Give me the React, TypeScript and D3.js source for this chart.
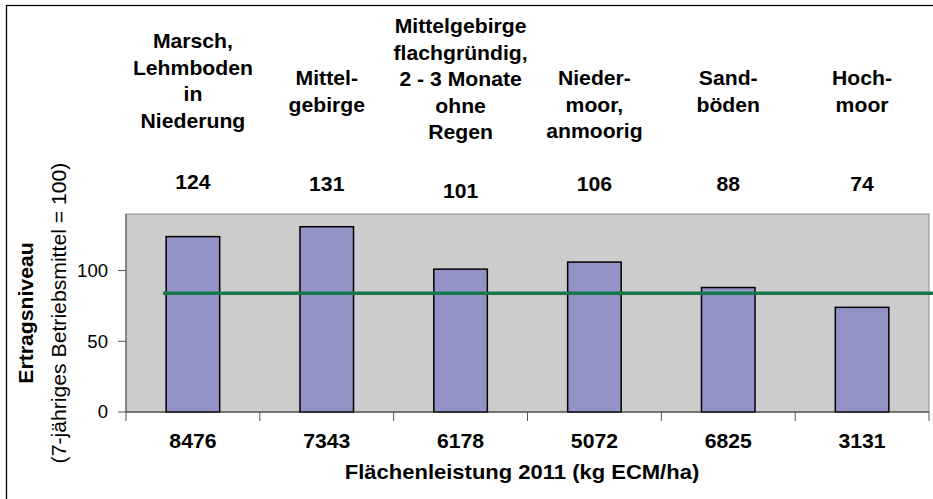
import React from "react";
import * as d3 from "d3";

// ---- data ----
const categoryLines: string[][] = [
  ["Marsch,", "Lehmboden", "in", "Niederung"],
  ["Mittel-", "gebirge"],
  ["Mittelgebirge", "flachgründig,", "2 - 3 Monate", "ohne", "Regen"],
  ["Nieder-", "moor,", "anmoorig"],
  ["Sand-", "böden"],
  ["Hoch-", "moor"],
];
const values: number[] = [124, 131, 101, 106, 88, 74];
const areaYield: string[] = ["8476", "7343", "6178", "5072", "6825", "3131"];
const referenceLevel = 84;
const yTicks: number[] = [0, 50, 100];
const yMax = 140;
const xTitle = "Flächenleistung 2011 (kg ECM/ha)";
const yTitle1 = "Ertragsniveau";
const yTitle2 = "(7-jähriges Betriebsmittel = 100)";

// ---- layout ----
const W = 933;
const H = 499;
const plot = { left: 126, right: 929, top: 214, bottom: 412 };
const firstBaseline = [48, 85, 33, 85, 85, 85];
const lineGap = 26.5;
const valueBaseline = [189, 191, 198, 191, 191, 191];
const FONT = "'Liberation Sans', Arial, Helvetica, sans-serif";
const SX = 1.06;

function T(props: {
  x: number; y: number; children: React.ReactNode; size?: number; bold?: boolean;
  anchor?: "start" | "middle" | "end"; rotate?: number; sx?: number; baseline?: string;
}) {
  const { x, y, children, size = 20, bold = true, anchor = "middle", rotate = 0, sx = SX, baseline } = props;
  return (
    <text
      transform={`translate(${x},${y}) rotate(${rotate}) scale(${sx},1)`}
      fontFamily={FONT}
      fontSize={size}
      fontWeight={bold ? "bold" : "normal"}
      textAnchor={anchor}
      dominantBaseline={baseline as any}
      fill="#000"
    >
      {children}
    </text>
  );
}

export default function App() {
  const idx = values.map((_, i) => String(i));
  const x = d3.scaleBand<string>().domain(idx).range([plot.left, plot.right]).paddingInner(0).paddingOuter(0);
  const y = d3.scaleLinear().domain([0, yMax]).range([plot.bottom, plot.top]);
  const bw = x.bandwidth();
  const barW = bw * 0.4;
  const lineX0 = (x("0") as number) + bw * 0.277;
  const bandEdges = d3.range(values.length + 1).map((i) => plot.left + i * bw);
  const cx = (i: number) => (x(String(i)) as number) + bw / 2;
  const plotMid = (plot.top + plot.bottom) / 2;

  return (
    <svg
      width={W}
      height={H}
      style={{ position: "absolute", left: 0, top: 0, background: "#fff" }}
    >
      <rect x={0} y={0} width={W} height={H} fill="#fff" />
      {/* outer frame */}
      <rect x={6.5} y={5.5} width={W + 20} height={H + 20} fill="none" stroke="#000" strokeWidth={1.3} />

      {/* plot area */}
      <rect
        x={plot.left}
        y={plot.top}
        width={plot.right - plot.left}
        height={plot.bottom - plot.top}
        fill="#cccccc"
        stroke="#8c8c8c"
        strokeWidth={1}
      />

      {/* bars */}
      {values.map((v, i) => (
        <rect
          key={i}
          x={cx(i) - barW / 2}
          y={y(v)}
          width={barW}
          height={y(0) - y(v)}
          fill="#9393c8"
          stroke="#000"
          strokeWidth={1.5}
        />
      ))}

      {/* reference line */}
      <line
        x1={lineX0}
        x2={W}
        y1={y(referenceLevel)}
        y2={y(referenceLevel)}
        stroke="#16784a"
        strokeWidth={3.6}
      />

      {/* y axis */}
      <line x1={plot.left} x2={plot.left} y1={plot.top} y2={plot.bottom} stroke="#555" strokeWidth={1} />
      {yTicks.map((t) => (
        <g key={t}>
          <line x1={plot.left - 8} x2={plot.left} y1={y(t)} y2={y(t)} stroke="#555" strokeWidth={1} />
          <T x={108} y={y(t)} size={18} bold={false} anchor="end" sx={1.03} baseline="central">
            {t}
          </T>
        </g>
      ))}

      {/* x axis */}
      <line x1={plot.left} x2={plot.right} y1={plot.bottom} y2={plot.bottom} stroke="#333" strokeWidth={1.2} />
      {bandEdges.map((e, i) => (
        <line key={i} x1={e} x2={e} y1={plot.bottom} y2={plot.bottom + 9} stroke="#555" strokeWidth={1} />
      ))}
      {areaYield.map((s, i) => (
        <T key={i} x={cx(i)} y={448}>
          {s}
        </T>
      ))}
      <T x={522} y={479} sx={1.1}>
        {xTitle}
      </T>

      {/* y titles */}
      <T x={33} y={plotMid} rotate={-90}>
        {yTitle1}
      </T>
      <T x={66} y={plotMid} rotate={-90} bold={false} size={20}>
        {yTitle2}
      </T>

      {/* category labels */}
      {categoryLines.map((lines, i) =>
        lines.map((ln, j) => (
          <T key={`${i}-${j}`} x={cx(i)} y={firstBaseline[i] + j * lineGap}>
            {ln}
          </T>
        ))
      )}
      {values.map((v, i) => (
        <T key={i} x={cx(i)} y={valueBaseline[i]}>
          {v}
        </T>
      ))}
    </svg>
  );
}
